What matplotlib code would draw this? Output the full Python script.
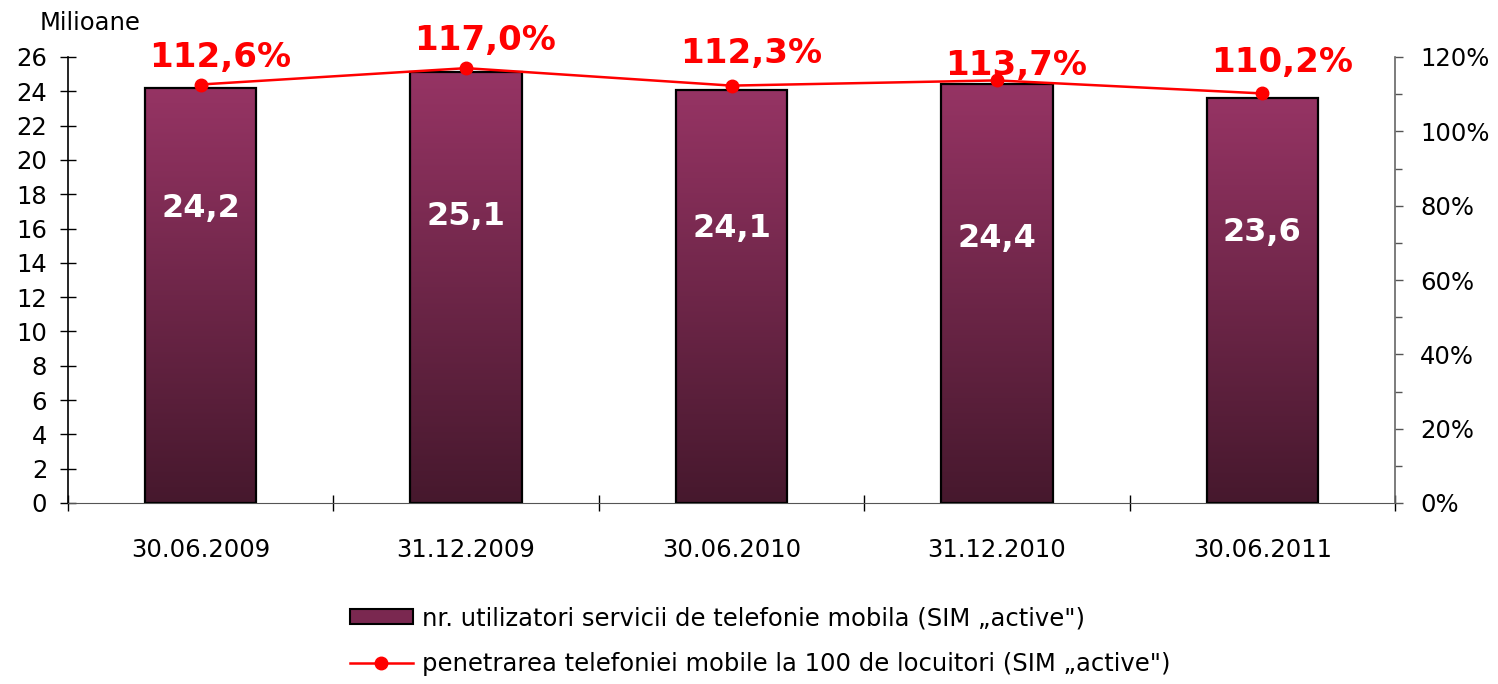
import matplotlib
matplotlib.use("Agg")
import matplotlib.pyplot as plt
import numpy as np
from matplotlib.ticker import FixedLocator, PercentFormatter
from matplotlib.patches import Patch
from matplotlib.lines import Line2D

# ---- data ----
categories = ["30.06.2009", "31.12.2009", "30.06.2010", "31.12.2010", "30.06.2011"]
users_mil = [24.2, 25.1, 24.1, 24.4, 23.6]
penetration = [112.6, 117.0, 112.3, 113.7, 110.2]
# label placement
bar_label_y = [16.7, 16.2, 15.5, 14.9, 15.3]      # baseline, in millions
pen_label_y = [117.3, 121.9, 118.4, 115.2, 116.0]  # baseline, in percent

legend_bar = "nr. utilizatori servicii de telefonie mobila (SIM \u201eactive\")"
legend_line = "penetrarea telefoniei mobile la 100 de locuitori (SIM \u201eactive\")"
ylabel_left = "Milioane"

plt.rcParams['font.family'] = ['DejaVu Sans']
FS = 17.5

fig = plt.figure(figsize=(14.98, 6.84), dpi=100)
ax = fig.add_axes([68/1498, 1-503/684, (1395-68)/1498, (503-57)/684])
ax2 = ax.twinx()

x = np.arange(len(categories))
bars = ax.bar(x, users_mil, width=0.42, color='none', edgecolor='black', linewidth=1.6, zorder=3)

# gradient fill
top = np.array([150, 52, 100]) / 255
bot = np.array([70, 24, 45]) / 255
grad = np.linspace(0, 1, 256)[:, None]
img = top[None, None, :] * (1 - grad[..., None]) + bot[None, None, :] * grad[..., None]
img = np.repeat(img, 2, axis=1)
for b in bars:
    x0, y0 = b.get_x(), b.get_y()
    w, h = b.get_width(), b.get_height()
    im = ax.imshow(img, extent=[x0, x0 + w, y0, y0 + h], aspect='auto', zorder=2, origin='upper')
    im.set_clip_path(b)

for xi, v, ly in zip(x, users_mil, bar_label_y):
    ax.text(xi, ly, f"{v:.1f}".replace('.', ','), ha='center', va='baseline',
            color='white', fontsize=23, fontweight='bold', zorder=5)

ax.set_xlim(-0.5, len(categories) - 0.5)
ax.set_ylim(0, 26)
ax.set_yticks(np.arange(0, 27, 2))
ax.tick_params(axis='y', direction='inout', length=12, width=1, labelsize=FS, pad=9)
ax.xaxis.set_major_locator(FixedLocator(np.arange(-0.5, len(categories), 1.0)))
ax.xaxis.set_minor_locator(FixedLocator(x))
ax.set_xticklabels([], minor=False)
ax.set_xticklabels(categories, minor=True)
ax.tick_params(axis='x', which='major', direction='inout', length=12, width=1)
ax.tick_params(axis='x', which='minor', length=0, labelsize=FS, pad=25)
ax.spines['top'].set_visible(False)
ax.spines['right'].set_visible(False)
ax.spines['left'].set_linewidth(1.2)
ax.spines['bottom'].set_color('#555555')

ax2.plot(x, penetration, color='#ff0000', linewidth=1.8, marker='o', markersize=9, zorder=6)
for xi, v, ly in zip(x, penetration, pen_label_y):
    ax2.annotate(f"{v:.1f}".replace('.', ',') + "%", xy=(xi, ly), xytext=(14, 0),
                 textcoords='offset points', ha='center', va='baseline',
                 color='#ff0000', fontsize=24.5, fontweight='bold', zorder=7,
                 annotation_clip=False)
ax2.set_ylim(0, 120)
ax2.set_yticks(np.arange(0, 121, 20))
ax2.yaxis.set_minor_locator(FixedLocator(np.arange(10, 120, 20)))
ax2.yaxis.set_major_formatter(PercentFormatter(decimals=0))
ax2.tick_params(axis='y', which='major', direction='out', length=6, width=1, labelsize=FS, pad=12, color='#555555')
ax2.tick_params(axis='y', which='minor', direction='out', length=5, width=1, color='#555555')
for s in ['top', 'left', 'bottom']:
    ax2.spines[s].set_visible(False)
ax2.spines['right'].set_color('#666666')
ax2.spines['right'].set_linewidth(1.2)

fig.text(40/1498, 1 - 23/684, ylabel_left, fontsize=FS, ha='left', va='center')

handles = [Patch(facecolor='#7a2850', edgecolor='black', linewidth=1.5),
           Line2D([0], [0], color='#ff0000', linewidth=1.8, marker='o', markersize=9)]
fig.legend(handles, [legend_bar, legend_line], loc='center', bbox_to_anchor=(760/1498, 1 - 641/684),
           frameon=False, fontsize=FS, handlelength=2.6, handletextpad=0.35, labelspacing=0.9,
           handleheight=0.55)

fig.savefig("out.png", dpi=100)
